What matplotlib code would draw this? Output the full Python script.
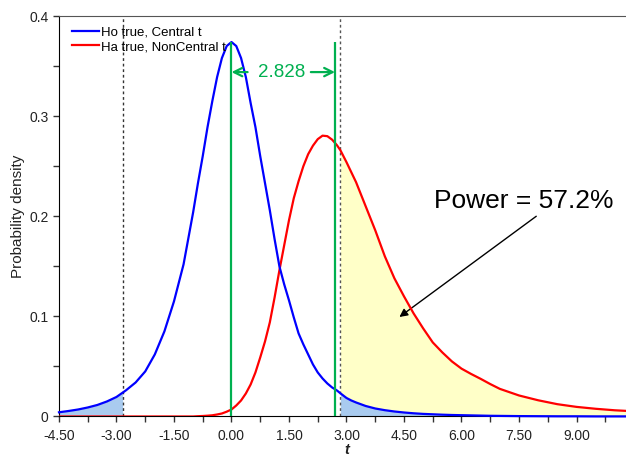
import numpy as np
import matplotlib
matplotlib.use("Agg")
from matplotlib import pyplot as plt
from matplotlib.ticker import MultipleLocator, FixedLocator, FuncFormatter

plt.rcParams['font.family'] = ['Liberation Sans', 'DejaVu Sans']

# values
t_vals = [-4.5, -4.25, -4.0, -3.75, -3.5, -3.25, -3.0, -2.84, -2.75, -2.5,
          -2.25, -2.0, -1.75, -1.5, -1.25, -1.0, -0.875, -0.75, -0.625, -0.5,
          -0.375, -0.25, -0.125, 0.0, 0.125, 0.25, 0.375, 0.5, 0.625, 0.75,
          0.875, 1.0, 1.125, 1.25, 1.375, 1.5, 1.625, 1.75, 1.875, 2.0,
          2.125, 2.25, 2.375, 2.5, 2.625, 2.75, 2.84, 3.0, 3.125, 3.25,
          3.5, 3.75, 4.0, 4.25, 4.5, 4.75, 5.0, 5.25, 5.5, 5.75,
          6.0, 6.25, 6.5, 6.75, 7.0, 7.5, 8.0, 8.5, 9.0, 9.5,
          10.0, 10.5]
ho_central = [0.0042, 0.0055, 0.0070, 0.0090, 0.0115, 0.0150, 0.0195, 0.0238, 0.0262, 0.0340,
              0.0450, 0.0620, 0.0850, 0.1150, 0.1520, 0.2040, 0.2330, 0.2600, 0.2890, 0.3150,
              0.3390, 0.3580, 0.3700, 0.3740, 0.3700, 0.3580, 0.3390, 0.3130, 0.2890, 0.2600,
              0.2330, 0.2060, 0.1770, 0.1500, 0.1320, 0.1160, 0.0990, 0.0830, 0.0720, 0.0620,
              0.0520, 0.0440, 0.0380, 0.0330, 0.0290, 0.0260, 0.0232, 0.0185, 0.0160, 0.0140,
              0.0105, 0.0080, 0.0063, 0.0050, 0.0040, 0.0032, 0.0026, 0.0022, 0.0018, 0.0015,
              0.0013, 0.0011, 0.0009, 0.0007, 0.0006, 0.0004, 0.0003, 0.0002, 0.0002, 0.0001,
              0.0001, 0.0001]
ha_noncentral = [0.0, 0.0, 0.0, 0.0, 0.0, 0.0, 0.0, 0.0, 0.0, 0.0,
                 0.0, 0.0, 0.0, 0.0, 0.0, 0.0, 0.0003, 0.0005, 0.0008, 0.0012,
                 0.0020, 0.0030, 0.0048, 0.0070, 0.0110, 0.0160, 0.0230, 0.0320, 0.0440, 0.0590,
                 0.0750, 0.0940, 0.1190, 0.1460, 0.1710, 0.1960, 0.2180, 0.2350, 0.2500, 0.2620,
                 0.2705, 0.2770, 0.2805, 0.2800, 0.2765, 0.2710, 0.2660, 0.2540, 0.2440, 0.2340,
                 0.2100, 0.1860, 0.1600, 0.1380, 0.1200, 0.1030, 0.0880, 0.0740, 0.0640, 0.0550,
                 0.0478, 0.0425, 0.0376, 0.0324, 0.0276, 0.0210, 0.0162, 0.0123, 0.0096, 0.0077,
                 0.0062, 0.0052]

t_crit_lo = -2.84
t_crit_hi = 2.84
shift_line = 2.70
shift_label = "2.828"
peak_height = 0.374
power_text = "Power = 57.2%"
x_labels = [-4.5, -3.0, -1.5, 0.0, 1.5, 3.0, 4.5, 6.0, 7.5, 9.0]

green = '#00B050'

t = np.array(t_vals)
ho = np.array(ho_central)
ha = np.array(ha_noncentral)

fig = plt.figure(figsize=(6.26, 4.59), dpi=100)
ax = fig.add_axes([0.0942, 0.0926, 0.9186, 0.8725])

right = t >= t_crit_hi
left = t <= t_crit_lo
ax.fill_between(t[right], 0, ha[right], color='#FFFFC8', lw=0, zorder=1)
ax.fill_between(t[right], 0, ho[right], color='#A9CBEF', lw=0, zorder=2)
ax.fill_between(t[left], 0, ho[left], color='#A9CBEF', lw=0, zorder=2)

ax.axvline(t_crit_lo, color='#333333', lw=1, ls=(0, (2, 2)), zorder=3)
ax.axvline(t_crit_hi, color='#555555', lw=1, ls=(0, (2, 2)), zorder=3)

ax.plot(t, ho, color='#0000FF', lw=1.6, label='Ho true, Central t', zorder=5, clip_on=False)
ax.plot(t, ha, color='#FF0000', lw=1.6, label='Ha true, NonCentral t', zorder=4)

ax.vlines([0, shift_line], 0, peak_height, color=green, lw=1.6, zorder=6)
ax.annotate('', xy=(0, 0.344), xytext=(0.42, 0.344),
            arrowprops=dict(arrowstyle='->', color=green, lw=1.6, mutation_scale=15,
                            shrinkA=0, shrinkB=0), zorder=6)
ax.annotate('', xy=(shift_line, 0.344), xytext=(2.07, 0.344),
            arrowprops=dict(arrowstyle='->', color=green, lw=1.6, mutation_scale=15,
                            shrinkA=0, shrinkB=0), zorder=6)
ax.text(1.30, 0.344, shift_label, color=green, fontsize=13.5, ha='center', va='center', zorder=6)

ax.text(7.63, 0.215, power_text, fontsize=19, ha='center', va='center', color='black')
ax.annotate('', xy=(4.38, 0.0994), xytext=(7.95, 0.200),
            arrowprops=dict(arrowstyle='-|>', color='black', lw=1, mutation_scale=12,
                            shrinkA=0, shrinkB=0))

ax.set_xlim(-4.5, 10.5)
ax.set_ylim(0, 0.4)
ax.xaxis.set_major_locator(FixedLocator(x_labels))
ax.xaxis.set_minor_locator(MultipleLocator(0.75))
ax.xaxis.set_major_formatter(FuncFormatter(lambda v, p: f'{v:.2f}'))
ax.yaxis.set_major_locator(MultipleLocator(0.1))
ax.yaxis.set_minor_locator(MultipleLocator(0.05))
ax.yaxis.set_major_formatter(FuncFormatter(lambda v, p: '0' if abs(v) < 1e-9 else f'{v:.1f}'))
ax.tick_params(which='both', direction='out', length=4, width=1, colors='#333333',
               labelsize=10, labelcolor='#222222')
ax.tick_params(axis='x', pad=5)

ax.spines['right'].set_visible(False)
ax.spines['top'].set_color('#555555')
ax.spines['left'].set_color('black')
ax.spines['bottom'].set_color('black')

ax.set_xlabel('t', fontsize=10.5, fontstyle='italic', fontweight='bold', labelpad=0, color='#222222')
ax.set_ylabel('Probability density', fontsize=11, color='#222222', labelpad=3)

ax.legend(loc='upper left', frameon=False, fontsize=9.5, handlelength=2.0,
          handletextpad=0.2, labelspacing=0.15, borderaxespad=0.1,
          bbox_to_anchor=(0.012, 0.99))

fig.savefig('out.png', dpi=100)
